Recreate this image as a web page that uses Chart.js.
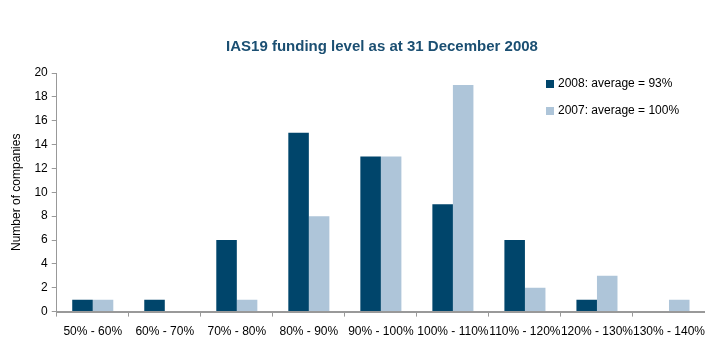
<!DOCTYPE html>
<html>
<head>
<title>IAS19 funding level</title>
<script src="https://cdn.jsdelivr.net/npm/chart.js@4"></script>
<style>
  body { margin: 0; background: #fff; }
  #wrap { width: 705px; height: 338px; position: relative; }
</style>
</head>
<body>
<div id="wrap"><canvas id="chart"></canvas></div>
<script>
const titleText = 'IAS19 funding level as at 31 December 2008';
const bands = ['50% - 60%', '60% - 70%', '70% - 80%', '80% - 90%', '90% - 100%',
  '100% - 110%', '110% - 120%', '120% - 130%', '130% - 140%'];
const companies2008 = [1, 1, 6, 15, 13, 9, 6, 1, 0];
const companies2007 = [1, 0, 1, 8, 13, 19, 2, 3, 1];
const label2008 = '2008: average = 93%';
const label2007 = '2007: average = 100%';

const font = 'Liberation Sans, Arial, sans-serif';

// title + legend drawn by hand so they sit where we want them
const extras = {
  id: 'extras',
  afterDraw(chart) {
    const ctx = chart.ctx;
    ctx.save();
    ctx.fillStyle = '#1b4f72';
    ctx.font = 'bold 15px ' + font;
    ctx.textAlign = 'center';
    ctx.textBaseline = 'middle';
    ctx.fillText(titleText, 382, 47);

    ctx.font = '12px ' + font;
    ctx.textAlign = 'left';
    chart.data.datasets.forEach((ds, i) => {
      const y = 84 + i * 27;
      ctx.fillStyle = ds.backgroundColor;
      ctx.fillRect(546, y - 4, 8, 8);
      ctx.fillStyle = '#000';
      ctx.fillText(ds.label, 558, y);
    });
    ctx.restore();
  }
};

new Chart(document.getElementById('chart'), {
  type: 'bar',
  data: {
    labels: bands,
    datasets: [
      { label: label2008, data: companies2008, backgroundColor: '#00456b' },
      { label: label2007, data: companies2007, backgroundColor: '#aec5d9' }
    ]
  },
  options: {
    responsive: true,
    maintainAspectRatio: false,
    animation: false,
    datasets: { bar: { categoryPercentage: 0.57, barPercentage: 1 } },
    layout: { autoPadding: false, padding: { top: 73, left: 5, right: -2, bottom: -9 } },
    plugins: { legend: { display: false }, title: { display: false }, tooltip: { enabled: false } },
    scales: {
      x: {
        // let the last label run to the edge instead of squeezing the axis
        afterFit(scale) { scale.paddingLeft = 0; scale.paddingRight = 0; },
        grid: { display: true, drawOnChartArea: false, offset: true, tickLength: 5, color: '#999' },
        border: { color: '#999', width: 2 },
        ticks: { color: '#000', font: { family: font, size: 12 }, maxRotation: 0, autoSkip: false, padding: 8 }
      },
      y: {
        min: 0, max: 20,
        grid: { display: true, drawOnChartArea: false, tickLength: 5, color: '#999' },
        border: { color: '#999', width: 1 },
        ticks: { stepSize: 2, color: '#000', font: { family: font, size: 12 }, padding: 4 },
        title: { display: true, text: 'Number of companies', color: '#000',
          font: { family: font, size: 12 }, padding: { top: 4, bottom: 7 } }
      }
    }
  },
  plugins: [extras]
});
</script>
</body>
</html>
